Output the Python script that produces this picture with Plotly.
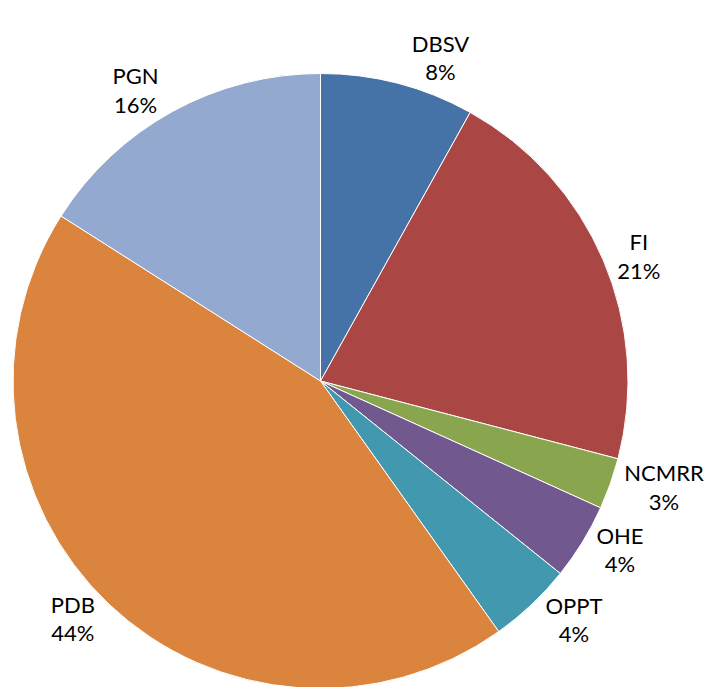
import plotly.graph_objects as go

FAMILY = "Lato"

labels = ["DBSV", "FI", "NCMRR", "OHE", "OPPT", "PDB", "PGN"]
values = [8.1, 21.0, 2.7, 4.0, 4.4, 43.9, 16.0]
colors = ["#4572A7", "#AA4643", "#89A54E", "#71588F", "#4198AF", "#DB843D", "#93A9CF"]

fig = go.Figure(
    data=go.Pie(
        labels=labels,
        values=values,
        sort=False,
        direction="clockwise",
        rotation=0,
        marker=dict(colors=colors, line=dict(color="white", width=1)),
        texttemplate="%{label}<br>%{percent:.0%}",
        textposition="outside",
        textfont=dict(family=FAMILY, size=22, color="#000000"),
        hoverinfo="label+percent",
        showlegend=False,
    )
)

fig.update_layout(
    width=719,
    height=687,
    paper_bgcolor="white",
    plot_bgcolor="white",
    margin=dict(l=4, r=99, t=65, b=4),
)

fig.write_html("out.html")
